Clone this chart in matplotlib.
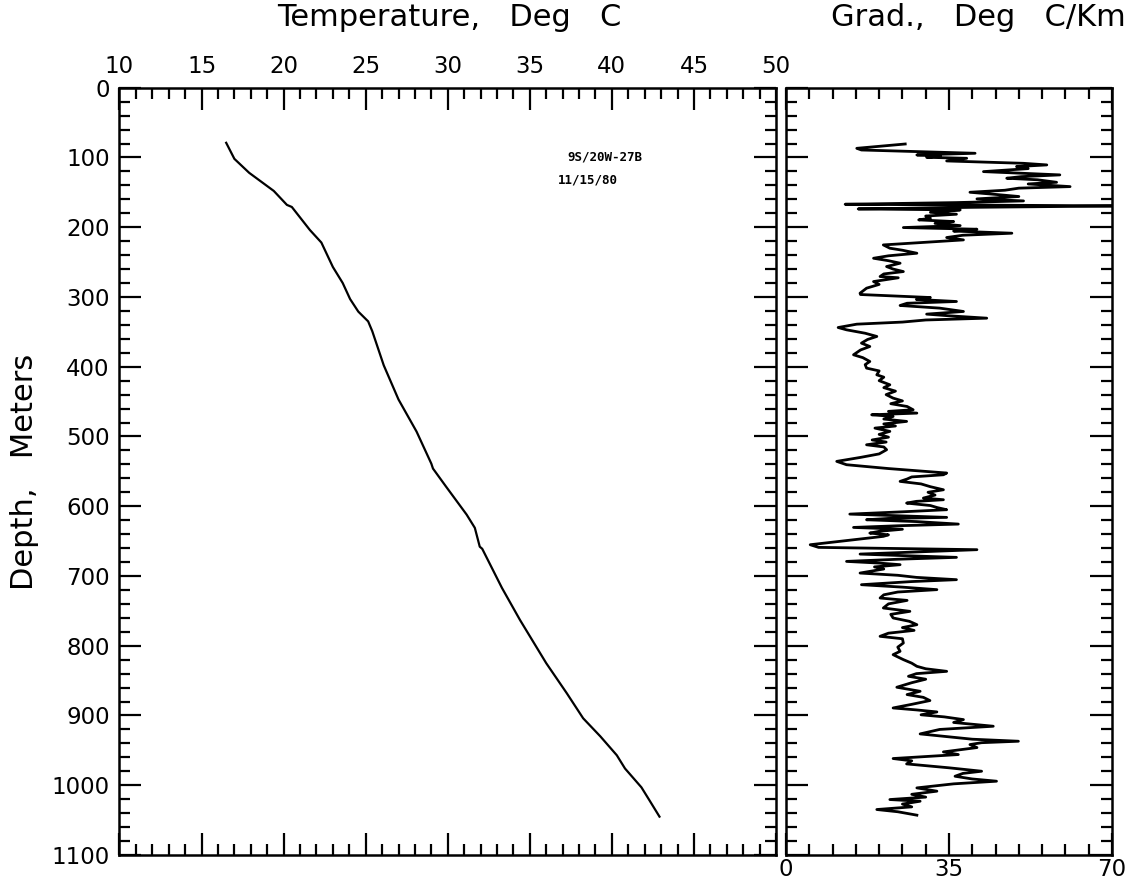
import matplotlib
matplotlib.use("Agg")
import matplotlib.pyplot as plt
from matplotlib.ticker import MultipleLocator

# temperature log
temp_depth = [79, 102, 122, 148, 168, 171, 204, 222, 257, 280, 303, 321, 335, 349,
              398, 447, 493, 539, 546, 572, 612, 631, 658, 661, 703, 717, 763, 825,
              868, 904, 930, 957, 976, 1003, 1022, 1045]
temp_c = [16.5, 17.0, 17.9, 19.4, 20.2, 20.5, 21.6, 22.3, 23.0, 23.6, 24.05, 24.55,
          25.15, 25.4, 26.1, 27.0, 28.1, 29.0, 29.1, 29.9, 31.15, 31.65, 31.95, 32.1,
          33.0, 33.3, 34.4, 36.0, 37.25, 38.25, 39.3, 40.3, 40.8, 41.8, 42.3, 42.9]

# gradient log
grad_depth = [80.7, 86.9, 89.3, 94.0, 96.4, 97.8, 99.8, 101.2, 105.0, 108.4, 110.7, 113.1,
              116.0, 120.3, 122.5, 125.0, 127.5, 129.8, 132.0, 135.6, 138.0, 141.8, 144.0,
              147.0, 149.9, 153.0, 156.0, 159.4, 162.3, 164.7, 167.1, 169.5, 171.5, 173.8,
              175.2, 178.6, 181.4, 184.0, 187.1, 189.5, 191.9, 194.5, 197.7, 200.5, 202.9,
              205.5, 208.6, 211.5, 214.8, 218.2, 225.4, 230.1, 233.0, 237.3, 241.0, 244.5,
              248.0, 251.6, 256.4, 260.0, 263.6, 267.0, 270.7, 272.5, 277.9, 282.0, 287.4,
              294.6, 296.5, 300.8, 303.5, 306.5, 309.0, 312.2, 316.0, 320.8, 324.6, 327.0,
              330.4, 333.0, 336.0, 339.0, 343.8, 347.1, 352.0, 356.6, 361.0, 366.2, 371.0,
              376.0, 382.9, 387.0, 392.5, 397.0, 402.0, 406.0, 411.6, 415.0, 420.0, 425.9,
              430.0, 435.0, 440.0, 445.0, 449.0, 453.0, 457.0, 461.7, 464.0, 466.5, 468.9,
              471.3, 475.0, 478.4, 482.0, 485.0, 488.0, 492.7, 497.0, 501.0, 505.0, 508.0,
              511.9, 515.0, 519.0, 525.0, 530.0, 535.7, 540.5, 546.0, 552.4, 554.9, 558.0,
              561.0, 564.4, 568.0, 572.0, 576.4, 580.0, 584.0, 588.3, 590.7, 593.0, 595.5,
              599.0, 602.0, 605.0, 608.0, 611.3, 614.0, 616.0, 617.5, 619.4, 622.0, 625.6,
              628.0, 630.4, 633.0, 636.0, 638.5, 641.0, 643.2, 650.0, 655.2, 659.0, 662.3,
              665.0, 668.6, 671.0, 673.3, 676.0, 679.1, 681.5, 683.8, 687.0, 690.0, 695.8,
              699.0, 702.0, 705.3, 708.0, 712.5, 716.0, 719.6, 723.0, 727.0, 731.6, 735.0,
              740.0, 745.9, 750.7, 755.0, 760.2, 765.0, 769.8, 774.0, 778.0, 782.0, 786.5,
              790.0, 796.1, 802.0, 808.0, 812.8, 816.0, 819.9, 825.0, 829.5, 833.0, 836.7,
              840.0, 843.8, 848.0, 853.0, 859.5, 865.3, 870.0, 874.0, 878.6, 884.0, 889.2,
              892.0, 894.9, 899.0, 902.0, 905.9, 910.0, 915.4, 920.0, 926.4, 930.0, 934.0,
              936.9, 939.0, 941.7, 946.0, 952.2, 956.0, 961.7, 965.0, 969.4, 975.0, 979.9,
              983.0, 987.1, 991.0, 994.2, 998.0, 1003.8, 1008.5, 1013.0, 1017.0, 1020.5,
              1022.9, 1027.0, 1031.0, 1034.8, 1038.0, 1042.9]
grad_val = [25.6, 15.2, 16.2, 40.6, 28.1, 33.1, 30.2, 38.8, 34.5, 51.0, 56.0, 49.5,
            52.0, 42.4, 50.0, 58.8, 50.5, 47.4, 54.0, 58.1, 52.0, 61.0, 50.0,
            47.0, 39.5, 45.0, 50.0, 41.0, 51.0, 36.6, 12.7, 72.0, 40.0, 15.5,
            37.4, 31.0, 36.6, 30.0, 31.0, 28.5, 36.0, 32.0, 37.4, 25.2, 41.0,
            36.0, 48.5, 38.0, 34.5, 38.1, 20.9, 22.3, 25.0, 28.1, 22.0, 18.8,
            22.0, 24.5, 21.6, 23.0, 25.2, 21.0, 20.2, 24.1, 18.8, 20.0, 17.3,
            15.9, 16.0, 31.0, 28.0, 36.6, 26.0, 24.5, 33.0, 38.1, 30.2, 35.0,
            43.1, 30.0, 25.0, 15.2, 11.2, 13.0, 17.0, 19.5, 17.5, 16.2, 18.0,
            16.0, 14.5, 16.5, 18.0, 17.0, 17.3, 20.0, 19.5, 21.0, 20.0, 22.3,
            21.0, 23.5, 21.5, 23.0, 25.0, 22.5, 26.0, 27.3, 22.0, 28.1, 18.4,
            23.0, 21.0, 25.9, 21.0, 23.5, 19.1, 22.3, 20.0, 22.0, 18.5, 21.5,
            17.3, 21.0, 21.6, 20.0, 16.0, 10.9, 13.0, 22.0, 34.5, 33.8, 27.0,
            26.0, 24.5, 29.0, 31.0, 33.8, 30.5, 32.0, 29.5, 33.8, 28.0, 25.9,
            31.0, 32.5, 34.5, 25.0, 13.7, 26.0, 34.5, 22.0, 17.3, 28.0, 37.0,
            24.0, 14.5, 25.0, 20.0, 18.0, 22.0, 20.9, 12.0, 5.2, 7.0, 41.0,
            30.0, 15.9, 26.0, 36.6, 24.0, 13.0, 20.0, 24.5, 19.0, 21.0, 15.9,
            24.0, 28.0, 36.6, 27.0, 16.2, 25.0, 32.4, 24.0, 21.0, 20.2, 26.0,
            22.0, 20.9, 26.6, 22.5, 23.0, 26.5, 28.1, 25.0, 27.5, 22.0, 20.2,
            25.0, 25.2, 24.0, 24.5, 23.0, 24.0, 25.2, 27.0, 28.1, 30.0, 34.5,
            28.0, 26.3, 30.0, 27.0, 23.8, 28.8, 26.0, 29.5, 30.9, 27.0, 23.0,
            28.0, 32.4, 29.0, 34.0, 38.1, 36.0, 44.5, 33.0, 28.8, 34.0, 40.0,
            49.9, 42.0, 39.5, 41.0, 33.8, 37.0, 23.0, 27.0, 25.9, 35.0, 42.0,
            38.0, 36.3, 40.0, 45.2, 36.0, 28.1, 32.4, 27.0, 30.0, 22.3,
            28.8, 25.0, 27.0, 19.5, 24.0, 28.1]

W, H = 1128, 881
fig = plt.figure(figsize=(W / 100, H / 100), dpi=100)

top_px, bot_px = 87.7, 855
ax_t = fig.add_axes([119.5 / W, 1 - bot_px / H, (776 - 119.5) / W, (bot_px - top_px) / H])
ax_g = fig.add_axes([786 / W, 1 - bot_px / H, (1112 - 786) / W, (bot_px - top_px) / H])

for ax in (ax_t, ax_g):
    for sp in ax.spines.values():
        sp.set_linewidth(1.8)
    ax.set_ylim(1100, 0)
    ax.yaxis.set_major_locator(MultipleLocator(100))
    ax.yaxis.set_minor_locator(MultipleLocator(20))
    ax.tick_params(which='both', direction='in', top=True, bottom=True, left=True, right=True,
                   width=1.6, labelsize=16.5)
    ax.tick_params(which='major', length=16)
    ax.tick_params(which='minor', length=8)

ax_t.plot(temp_c, temp_depth, color='black', lw=1.6)
ax_t.set_xlim(10, 50)
ax_t.xaxis.set_major_locator(MultipleLocator(5))
ax_t.xaxis.set_minor_locator(MultipleLocator(1))
ax_t.tick_params(labeltop=True, labelbottom=False)
ax_t.tick_params(axis='x', pad=7)
ax_t.tick_params(axis='y', pad=7)
ax_t.text(37.3, 99, '9S/20W-27B', family='DejaVu Sans Mono', fontweight='bold',
          fontsize=9, va='center', ha='left')
ax_t.text(36.7, 132, '11/15/80', family='DejaVu Sans Mono', fontweight='bold',
          fontsize=9, va='center', ha='left')

ax_g.plot(grad_val, grad_depth, color='black', lw=2.0)
ax_g.set_xlim(0, 70)
ax_g.xaxis.set_major_locator(MultipleLocator(35))
ax_g.xaxis.set_minor_locator(MultipleLocator(5))
ax_g.tick_params(labelleft=False, labelbottom=True)
ax_g.tick_params(axis='x', pad=2)

ty = 1 - 18 / H
fig.text(449 / W, ty, 'Temperature,   Deg   C', fontsize=22, ha='center', va='center')
fig.text(1126 / W, ty, 'Grad.,   Deg   C/Km', fontsize=22, ha='right', va='center')
fig.text(25 / W, 1 - 472 / H, 'Depth,   Meters', fontsize=22, ha='center', va='center',
         rotation=90)

fig.savefig('out.png', dpi=100)
